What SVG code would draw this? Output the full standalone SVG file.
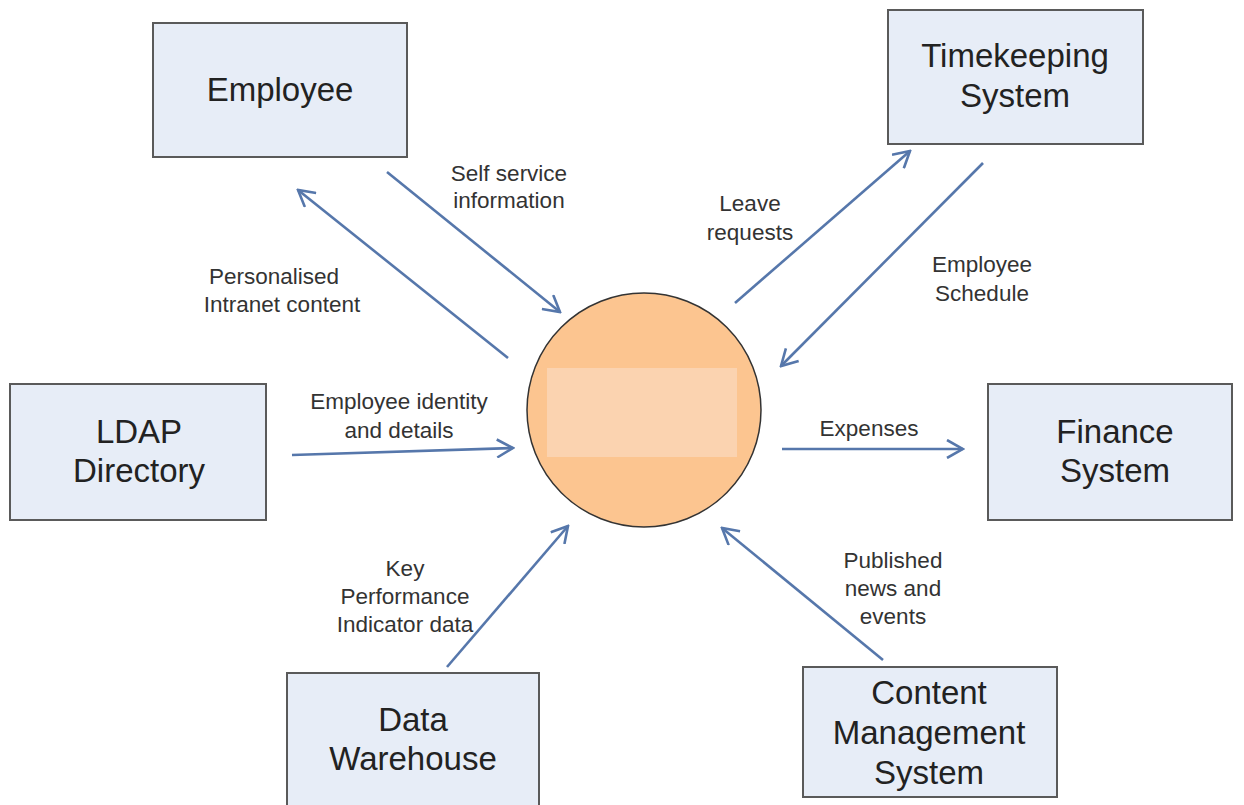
<svg xmlns="http://www.w3.org/2000/svg" width="1244" height="805" viewBox="0 0 1244 805">
<style>
.box{fill:#e7edf7;stroke:#5a5a5a;stroke-width:2}
.nl{font-family:"Liberation Sans",Arial,sans-serif;font-size:33px;fill:#222;text-anchor:middle}
.el{font-family:"Liberation Sans",Arial,sans-serif;font-size:22.5px;fill:#333;text-anchor:middle}
.ln{stroke:#5677ab;stroke-width:2.6;fill:none;marker-end:url(#ah)}
</style>
<defs>
<marker id="ah" viewBox="0 0 20 20" refX="18" refY="10" markerWidth="20" markerHeight="20" markerUnits="userSpaceOnUse" orient="auto">
<path d="M2,1 L18,10 L2,19" fill="none" stroke="#5677ab" stroke-width="2.6"/>
</marker>
</defs>
<rect width="1244" height="805" fill="#ffffff"/>
<g id="connectors">
<line class="ln" x1="387" y1="172" x2="560" y2="312"/>
<line class="ln" x1="508" y1="358" x2="298" y2="190"/>
<line class="ln" x1="735" y1="303" x2="910" y2="151"/>
<line class="ln" x1="983" y1="163" x2="781" y2="366"/>
<line class="ln" x1="292" y1="455" x2="513" y2="448"/>
<line class="ln" x1="782" y1="449" x2="963" y2="449"/>
<line class="ln" x1="447" y1="667" x2="568" y2="526"/>
<line class="ln" x1="883" y1="660" x2="722" y2="528"/>
<text class="el" x="509" y="181">Self service</text>
<text class="el" x="509" y="208">information</text>
<text class="el" x="274" y="284">Personalised</text>
<text class="el" x="282" y="312">Intranet content</text>
<text class="el" x="750" y="211">Leave</text>
<text class="el" x="750" y="240">requests</text>
<text class="el" x="982" y="272">Employee</text>
<text class="el" x="982" y="301">Schedule</text>
<text class="el" x="399" y="409">Employee identity</text>
<text class="el" x="399" y="438">and details</text>
<text class="el" x="869" y="436">Expenses</text>
<text class="el" x="405" y="576">Key</text>
<text class="el" x="405" y="604">Performance</text>
<text class="el" x="405" y="632">Indicator data</text>
<text class="el" x="893" y="568">Published</text>
<text class="el" x="893" y="596">news and</text>
<text class="el" x="893" y="624">events</text>
</g>
<g id="process">
<circle cx="644" cy="410" r="117" fill="#fcc590" stroke="#333" stroke-width="1.5"/>
<rect x="547" y="368" width="190" height="89" fill="#fbd3b0"/>
</g>
<g id="employee">
<rect class="box" x="153" y="23" width="254" height="134"/>
<text class="nl" x="280" y="101">Employee</text>
</g>
<g id="timekeeping">
<rect class="box" x="888" y="10" width="255" height="134"/>
<text class="nl" x="1015" y="67">Timekeeping</text>
<text class="nl" x="1015" y="107">System</text>
</g>
<g id="ldap">
<rect class="box" x="10" y="384" width="256" height="136"/>
<text class="nl" x="139" y="443">LDAP</text>
<text class="nl" x="139" y="482">Directory</text>
</g>
<g id="finance">
<rect class="box" x="988" y="384" width="244" height="136"/>
<text class="nl" x="1115" y="443">Finance</text>
<text class="nl" x="1115" y="482">System</text>
</g>
<g id="warehouse">
<rect class="box" x="287" y="673" width="252" height="140"/>
<text class="nl" x="413" y="731">Data</text>
<text class="nl" x="413" y="770">Warehouse</text>
</g>
<g id="cms">
<rect class="box" x="803" y="667" width="254" height="130"/>
<text class="nl" x="929" y="704">Content</text>
<text class="nl" x="929" y="744">Management</text>
<text class="nl" x="929" y="784">System</text>
</g>
</svg>
